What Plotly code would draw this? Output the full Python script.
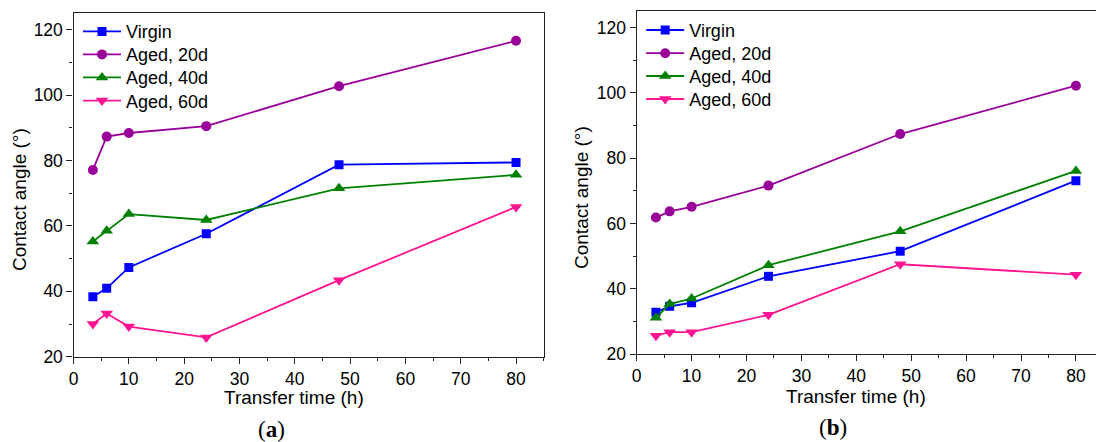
import plotly.graph_objects as go

W, H = 1096, 442

time_h = [3.5, 6, 10, 24, 48, 80]
series_names = ["Virgin", "Aged, 20d", "Aged, 40d", "Aged, 60d"]

a_virgin = [38.3, 40.9, 47.3, 57.6, 78.7, 79.4]
a_aged20 = [77.1, 87.3, 88.4, 90.5, 102.7, 116.6]
a_aged40 = [55.2, 58.5, 63.6, 61.8, 71.5, 75.6]
a_aged60 = [30.0, 33.2, 29.2, 25.9, 43.4, 65.8]

b_virgin = [32.8, 34.6, 35.7, 43.8, 51.5, 73.1]
b_aged20 = [61.8, 63.7, 65.1, 71.6, 87.4, 102.2]
b_aged40 = [31.1, 35.3, 37.0, 47.2, 57.6, 76.1]
b_aged60 = [25.6, 26.7, 26.7, 32.0, 47.5, 44.3]

colors = ["#0000FF", "#990099", "#008000", "#FF1493"]
symbols = ["square", "circle", "triangle-up", "triangle-down"]
msizes = [9, 10, 11, 11]

FONT = "Liberation Sans, Arial, sans-serif"
SERIF = "Liberation Serif, Times New Roman, serif"


def px_x(p):
    return p / W


def px_y(p):
    return 1 - p / H


fig = go.Figure()

# legend row tops (px) for each panel
leg_a_tops = [13.2, 36.2, 59.2, 82.4]
leg_b_tops = [11.8, 35.0, 57.8, 80.8]

panels = [
    ("x", "y", [a_virgin, a_aged20, a_aged40, a_aged60], 78.0, leg_a_tops, 0),
    ("x2", "y2", [b_virgin, b_aged20, b_aged40, b_aged60], 641.2, leg_b_tops, 4),
]
legend_layouts = {}
for xa, ya, data, lx, tops, base in panels:
    for i, (name, vals, c, s, ms) in enumerate(zip(series_names, data, colors, symbols, msizes)):
        n = base + i + 1
        lg = "legend" if n == 1 else f"legend{n}"
        fig.add_trace(go.Scatter(
            x=time_h, y=vals, name=name, mode="lines+markers",
            line=dict(color=c, width=1.8),
            marker=dict(color=c, symbol=s, size=ms, line=dict(width=0)),
            xaxis=xa, yaxis=ya, legend=lg,
        ))
        legend_layouts[lg] = dict(
            x=px_x(lx), y=px_y(tops[i]), xanchor="left", yanchor="top",
            bgcolor="rgba(0,0,0,0)", borderwidth=0, itemwidth=38,
            font=dict(family=FONT, size=18, color="#000000"),
        )

axis_common = dict(
    showline=True, linecolor="#222222", linewidth=1.3,
    ticks="outside", ticklen=6, tickwidth=1.3, tickcolor="#222222",
    showgrid=False, zeroline=False, automargin=False,
    tickfont=dict(family=FONT, size=17.5, color="#000000"),
)
minor_x = dict(dtick=5, ticks="outside", ticklen=3, tickcolor="#222222", tickwidth=1.2)
minor_y = dict(dtick=10, ticks="outside", ticklen=3, tickcolor="#222222", tickwidth=1.2)

xa_dom = [px_x(73.5), px_x(543.7)]
xb_dom = [px_x(636.7), 1.0]
ya_dom = [px_y(356.7), px_y(13.3)]
yb_dom = [px_y(354.0), px_y(11.3)]

fig.update_layout(
    template="none",
    width=W, height=H, autosize=False,
    margin=dict(l=0, r=0, t=0, b=0, pad=0, autoexpand=False),
    paper_bgcolor="white", plot_bgcolor="white",
    font=dict(family=FONT, color="#000000"),
    xaxis=dict(domain=xa_dom, range=[0, 85], dtick=10, tick0=0, mirror=True,
               minor=minor_x, anchor="y", **axis_common),
    yaxis=dict(domain=ya_dom, range=[20, 125], dtick=20, tick0=20, mirror=True,
               minor=minor_y, anchor="x", **axis_common),
    xaxis2=dict(domain=xb_dom, range=[0, (1096 - 636.7) / 5.49], dtick=10, tick0=0, mirror=True,
                minor=minor_x, anchor="y2", **axis_common),
    yaxis2=dict(domain=yb_dom, range=[20, 125], dtick=20, tick0=20, mirror=False,
                minor=minor_y, anchor="x2", **axis_common),
    showlegend=True,
    **legend_layouts,
)

annos = [
    dict(text="Contact angle (°)", x=px_x(20), y=px_y(200), textangle=-90, size=19, fam=FONT),
    dict(text="Contact angle (°)", x=px_x(582), y=px_y(198), textangle=-90, size=19, fam=FONT),
    dict(text="Transfer time (h)", x=px_x(294), y=px_y(397), textangle=0, size=19, fam=FONT),
    dict(text="Transfer time (h)", x=px_x(856), y=px_y(396), textangle=0, size=19, fam=FONT),
    dict(text="(<b>a</b>)", x=px_x(271), y=px_y(429), textangle=0, size=23, fam=SERIF),
    dict(text="(<b>b</b>)", x=px_x(833), y=px_y(427), textangle=0, size=23, fam=SERIF),
]
for a in annos:
    fig.add_annotation(text=a["text"], x=a["x"], y=a["y"], xref="paper", yref="paper",
                       xanchor="center", yanchor="middle", showarrow=False,
                       textangle=a["textangle"], font=dict(family=a["fam"], size=a["size"], color="#000000"))

fig.write_html("out.html")
